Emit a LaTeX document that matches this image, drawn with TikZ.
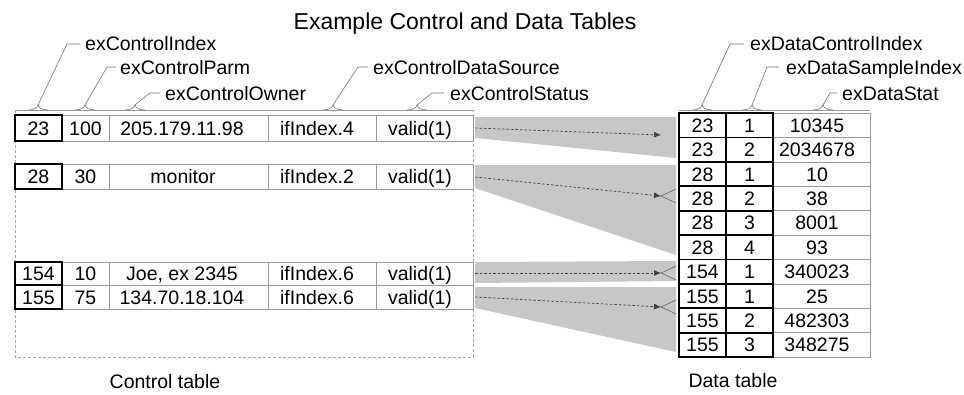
\documentclass[tikz,border=0pt]{standalone}
\usepackage{fontspec}
\setmainfont{Liberation Sans}
\usetikzlibrary{arrows.meta}
\begin{document}
\begin{tikzpicture}[x=1pt,y=-1pt,
  txt/.style={font=\fontsize{19.5}{22}\selectfont, inner sep=0pt, anchor=base},
  lbl/.style={font=\fontsize{19.5}{22}\selectfont, inner sep=0pt, anchor=base west},
  grid/.style={draw=black!40, line width=0.6pt},
  keycell/.style={draw=black, line width=1.8pt},
  outer/.style={draw=black!35, line width=0.6pt, dash pattern=on 3pt off 2pt},
  leader/.style={draw=black!55, line width=0.6pt},
  wedge/.style={fill=black!22, draw=none},
  link/.style={draw=black!75, line width=0.7pt, dash pattern=on 2.5pt off 2pt, -{Latex[length=7pt,width=6pt]}},
  crowfoot/.style={draw=black!60, line width=0.6pt},
]
\useasboundingbox (0,0) rectangle (964,394);
\fill[white] (0,0) rectangle (964,394);

% title
\node[font=\fontsize{23}{26}\selectfont, inner sep=0pt, anchor=base] (title) at (465,29) {Example Control and Data Tables};

% wedges
\fill[wedge] (475,117) -- (676,117) -- (676,158) -- (475,138) -- cycle;
\fill[wedge] (475,165) -- (676,165) -- (676,255) -- (475,188) -- cycle;
\fill[wedge] (475,262) -- (676,261) -- (676,281) -- (475,283) -- cycle;
\fill[wedge] (475,287) -- (676,287) -- (676,352) -- (475,308) -- cycle;

% control table frame
\draw[outer] (15,110) -- (15,357) -- (473,357) -- (473,110);
\draw[grid] (15,110) -- (473,110);

% control rows
\foreach \t/\b in {115/141, 164/189, 262/285, 285/309}{
  \draw[grid] (15,\t) rectangle (473,\b);
  \foreach \x in {62,109,268,376} \draw[grid] (\x,\t) -- (\x,\b);
  \draw[keycell] (15,\t) rectangle (62,\b);
}
% row 1
\node[txt] (ck1) at (38.5,135) {23};
\node[txt] (cp1) at (85.5,135) {100};
\node[txt] (co1) at (182,135) {205.179.11.98};
\node[txt] (cd1) at (317,135) {ifIndex.4};
\node[txt] (cs1) at (420,135) {valid(1)};
% row 2
\node[txt] (ck2) at (38.5,183.5) {28};
\node[txt] (cp2) at (85.5,183.5) {30};
\node[txt] (co2) at (183,183.5) {monitor};
\node[txt] (cd2) at (317,183.5) {ifIndex.2};
\node[txt] (cs2) at (420,183.5) {valid(1)};
% row 3
\node[txt] (ck3) at (38.5,280.5) {154};
\node[txt] (cp3) at (85.5,280.5) {10};
\node[txt] (co3) at (182,280.5) {Joe, ex 2345};
\node[txt] (cd3) at (317,280.5) {ifIndex.6};
\node[txt] (cs3) at (420,280.5) {valid(1)};
% row 4
\node[txt] (ck4) at (38.5,304) {155};
\node[txt] (cp4) at (85.5,304) {75};
\node[txt] (co4) at (182,304) {134.70.18.104};
\node[txt] (cd4) at (317,304) {ifIndex.6};
\node[txt] (cs4) at (420,304) {valid(1)};

% data table
\draw[grid] (679,110) -- (870,110);
\foreach \a/\b/\c [count=\i from 0] in {23/1/10345, 23/2/2034678, 28/1/10, 28/2/38, 28/3/8001, 28/4/93, 154/1/340023, 155/1/25, 155/2/482303, 155/3/348275}{
  \pgfmathsetmacro\t{113+24.4*\i}
  \draw[grid] (773,\t) rectangle (870,\t+24.4);
  \draw[keycell] (679,\t) rectangle (726,\t+24.4);
  \draw[keycell] (726,\t) rectangle (773,\t+24.4);
  \node[txt] (dk\i) at (702.5,\t+19.2) {\a};
  \node[txt] (ds\i) at (749.5,\t+19.2) {\b};
  \node[txt] (dv\i) at (817,\t+19.2) {\c};
}

% links
\coordinate (s1) at (475,128); \coordinate (t1) at (661,135);
\coordinate (s2) at (475,177); \coordinate (t2) at (661,196);
\coordinate (s3) at (475,273); \coordinate (t3) at (661,273);
\coordinate (s4) at (475,297); \coordinate (t4) at (661,307);
\draw[link] (s1) -- (t1);
\draw[link] (s2) -- (t2);
\draw[link] (s3) -- (t3);
\draw[link] (s4) -- (t4);
\coordinate (f2a) at (676,189); \coordinate (f2b) at (676,203);
\coordinate (f3a) at (676,266); \coordinate (f3b) at (676,280);
\coordinate (f4a) at (676,300); \coordinate (f4b) at (676,314);
\draw[crowfoot] (f2a) -- (t2) -- (f2b);
\draw[crowfoot] (f3a) -- (t3) -- (f3b);
\draw[crowfoot] (f4a) -- (t4) -- (f4b);

% leaders and labels
\foreach \n/\bx/\kx/\ky/\ex in {1/38/67/44/80, 2/85/107/67/116, 3/135/150/93/160, 4/333/358/67/368, 5/417/432/93/444, 6/702/730/44/744, 7/752/767/67/779, 8/823/830/93/837}{
  \coordinate (b\n) at (\bx,105);
  \coordinate (k\n) at (\kx,\ky);
  \coordinate (e\n) at (\ex,\ky);
  \draw[leader] ([shift={(-10,5)}]b\n) .. controls +(6,0) and +(-1,3) .. (b\n) .. controls +(1,3) and +(-6,0) .. ([shift={(10,5)}]b\n);
  \draw[leader] (b\n) -- (k\n) -- (e\n);
}
\node[lbl] (l1) at (85,50) {exControlIndex};
\node[lbl] (l2) at (120,74) {exControlParm};
\node[lbl] (l3) at (165,100) {exControlOwner};
\node[lbl] (l4) at (373,74) {exControlDataSource};
\node[lbl] (l5) at (450,100) {exControlStatus};
\node[lbl] (l6) at (750,50) {exDataControlIndex};
\node[lbl] (l7) at (786,74) {exDataSampleIndex};
\node[lbl] (l8) at (842,100) {exDataStat};

% captions
\node[txt] (cap1) at (165,388) {Control table};
\node[txt] (cap2) at (733,387) {Data table};
\end{tikzpicture}
\end{document}
